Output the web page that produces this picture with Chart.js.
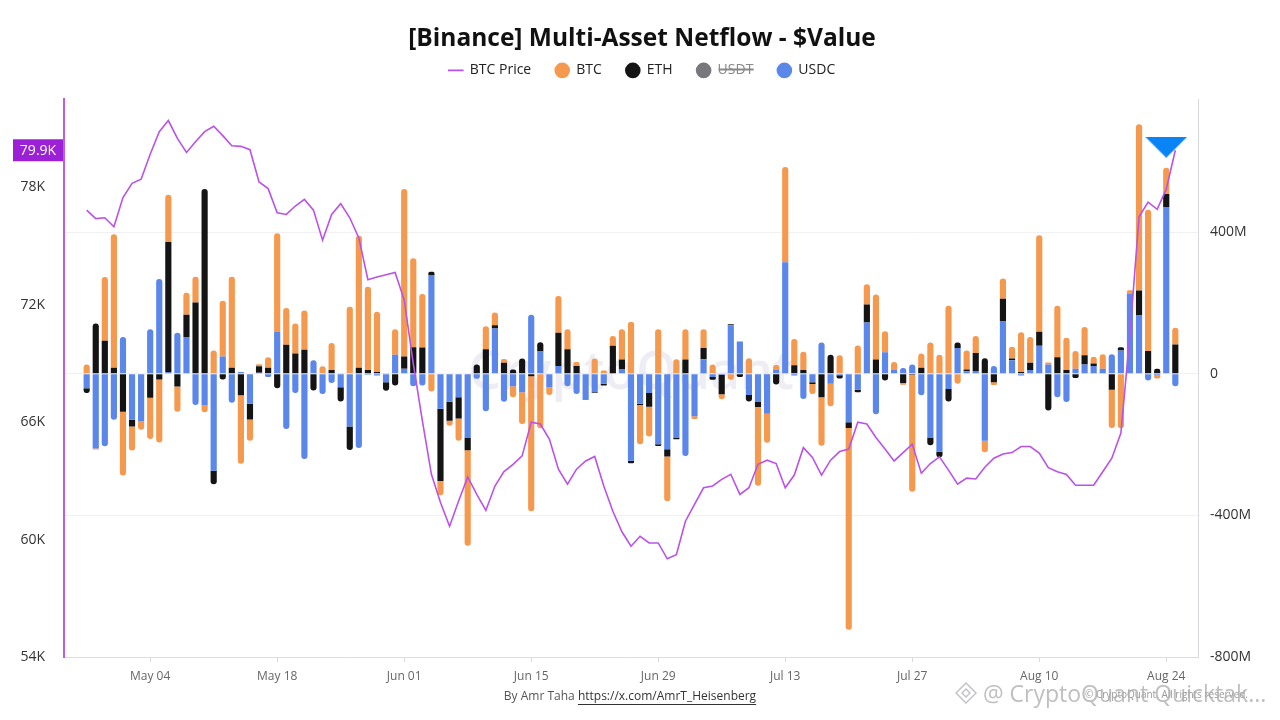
<!DOCTYPE html>
<html>
<head>
<meta charset="utf-8">
<title>[Binance] Multi-Asset Netflow - $Value</title>
<script src="https://cdn.jsdelivr.net/npm/chart.js@4.4.1/dist/chart.umd.min.js"></script>
<style>
  html, body { margin: 0; padding: 0; background: #fff; }
  #wrap { width: 1280px; height: 720px; }
</style>
</head>
<body>
<div id="wrap"><canvas id="myChart" width="1280" height="720"></canvas></div>
<script>
// BTC price, in thousands of USD (Apr 27 .. Aug 25)
const btcPrice = [
  76.84, 76.41, 76.45, 75.99,
  77.48, 78.21, 78.42, 79.70, 80.85, 81.42, 80.51, 79.79, 80.34, 80.85,
  81.13, 80.65, 80.13, 80.10, 79.93, 78.28, 77.94, 76.71, 76.62, 77.05,
  77.39, 76.84, 75.30, 76.62, 77.17, 76.45, 75.42, 73.28, 73.42, 73.54, 73.65,
  72.25, 69.00, 66.08, 63.34, 61.90, 60.68, 61.97, 63.20, 62.31, 61.49,
  62.74, 63.48, 63.85, 64.28, 66.00, 65.91, 65.14, 63.60, 62.83, 63.60,
  64.02, 64.25, 62.74, 61.45, 60.40, 59.66, 60.17, 59.83, 59.83, 59.02,
  59.23, 60.94, 61.80, 62.65, 62.74, 63.08, 63.34, 62.31, 62.65, 63.85,
  64.06, 63.89, 62.65, 63.30, 64.70, 64.20, 63.30, 64.06, 64.50, 64.63,
  66.00, 65.91, 65.22, 64.63, 64.02, 64.45, 64.88, 63.39, 63.89, 64.23, 63.55,
  62.83, 63.14, 63.10, 63.70, 64.16, 64.38, 64.45, 64.76, 64.76, 64.42,
  63.68, 63.47, 63.33, 62.78, 62.78, 62.78, 63.47, 64.16, 65.45, 70.50,
  76.50, 77.25, 76.88, 77.91, 79.90
];

// netflows, in millions of USD
const btcNetflow = [
  26, -3, 180, 377,
  -180, -68, -23, -116, -178, 134, -71, 62, 73, -21,
  66, 157, 257, -193, -60, 6, 30, 279, 104, 85,
  111, 0, 21, 76, 2, 189, 373, 235, 170, 2, 72,
  473, 251, 151, -50, -40, -14, -63, -270, 0, 65,
  36, 11, -31, -90, -381, -154, -22, 104, 57, 11,
  0, 43, 9, 28, 86, 147, -111, -84, 126, -126,
  41, 86, -8, 53, 26, -14, -17, 2, 44, -222,
  -82, 13, 269, 74, 51, -28, -137, -64, 52, -570,
  80, 57, 184, 59, 21, -5, -330, 40, 88, 54, 192,
  -28, 54, 48, -33, -8, 57, 33, 112, 73, 272,
  6, 145, 91, 50, 80, 19, 41, -108, -154, 9,
  470, 399, -8, 74, 47
];

const ethNetflow = [
  -13, 142, 93, 17,
  -107, -19, 0, -68, -16, 367, -36, 63, 201, 522,
  -38, -16, 17, -61, -44, 18, 17, -41, 82, 57,
  68, -47, 0, 11, -40, -66, 17, 11, 5, -24, -33,
  35, 75, 74, 9, -204, -54, -60, -36, 26, 69,
  9, 31, 12, 43, -7, 26, 0, 94, 69, 22,
  -2, -2, -5, 79, 28, -7, -3, -39, -5, -21,
  -5, 40, 0, 32, -8, -55, 3, -9, -18, -16,
  0, -30, 0, 24, 11, -5, -66, 54, -9, -16,
  -7, 51, 40, -19, 0, -26, -3, 17, -22, -16, -35,
  15, 5, 51, 44, -24, 64, 5, 5, 20, 40,
  -104, 47, 11, -12, 26, 7, 0, -45, 9, 0,
  69, 64, 14, 38, 83
];

const usdcNetflow = [
  -41, -211, -205, -130,
  104, -130, -135, 126, 268, 5, 116, 104, -88, -88,
  -274, 49, -82, 5, -85, 3, -9, 118, -156, -54,
  -241, 38, -57, -26, -38, -149, -210, -3, -5, -24, 54,
  14, -35, -33, 279, -99, -79, -66, -180, -14, -106,
  128, -79, -35, -52, 167, 63, -38, 22, -35, -57,
  -71, -52, -28, 0, 12, -246, -85, -54, -199, -213,
  -180, -232, -120, 41, -9, -3, 137, 90, -60, -78,
  -113, 12, 315, -5, -71, -24, 88, -28, -4, -137,
  -45, 145, -114, 61, 12, 16, 26, -61, -180, -220, -43,
  73, 7, 8, -189, 22, 148, 38, -5, 11, 79,
  26, -66, -80, 14, 26, 22, 14, 55, 66, 227,
  166, -19, -5, 470, -35
];

// USDT is switched off in the legend, so nothing of it is drawn
const usdtNetflow = [];

const tickLabels = ["May 04", "May 18", "Jun 01", "Jun 15", "Jun 29", "Jul 13", "Jul 27", "Aug 10", "Aug 24"];
const priceTicks = [54, 60, 66, 72, 78];
const flowTicks = [-800, -400, 0, 400];

// the blue flag above the last bars (right axis, millions)
const markerDay = "Aug 24";
const markerLevel = 640;

const months = ["Jan", "Feb", "Mar", "Apr", "May", "Jun", "Jul", "Aug", "Sep", "Oct", "Nov", "Dec"];

function dayLabel(d) {
  return months[d.getMonth()] + " " + String(d.getDate()).padStart(2, "0");
}

// two empty days on each side, like the original axis
const dates = [];
for (let i = -2; i <= btcPrice.length + 1; i++) {
  dates.push(dayLabel(new Date(2025, 3, 27 + i)));
}

function pad(arr) {
  return [null, null, ...arr, null, null];
}

// flat down-pointing triangle used as a point image
const flag = document.createElement("canvas");
flag.width = 42;
flag.height = 21;
const fctx = flag.getContext("2d");
fctx.fillStyle = "#0a84f5";
fctx.beginPath();
fctx.moveTo(0, 0);
fctx.lineTo(42, 0);
fctx.lineTo(21, 21);
fctx.closePath();
fctx.fill();

const FONT = "'Open Sans', 'Noto Sans', sans-serif";

// a bit more room between the legend and the plot
const legendSpace = {
  id: "legendSpace",
  beforeInit(chart) {
    const fit = chart.legend.fit;
    chart.legend.fit = function () {
      fit.call(this);
      this.height += 12;
    };
  }
};

const extras = {
  id: "extras",
  beforeDatasetsDraw(chart) {
    const { ctx, chartArea } = chart;
    ctx.save();
    ctx.font = "600 52px " + FONT;
    ctx.fillStyle = "rgba(214, 214, 228, 0.45)";
    ctx.textAlign = "center";
    ctx.textBaseline = "middle";
    ctx.fillText("CryptoQuant", (chartArea.left + chartArea.right) / 2, chart.scales.y1.getPixelForValue(0));
    ctx.restore();
  },
  afterDraw(chart) {
    const { ctx } = chart;
    const yScale = chart.scales.y;
    const last = btcPrice[btcPrice.length - 1];
    const py = yScale.getPixelForValue(last);

    ctx.save();
    // current price tag on the left axis
    ctx.fillStyle = "#9b20d6";
    ctx.fillRect(yScale.right - 51, py - 11, 50, 22);
    ctx.fillStyle = "#fff";
    ctx.font = "14px " + FONT;
    ctx.textAlign = "center";
    ctx.textBaseline = "middle";
    ctx.fillText(last.toFixed(1) + "K", yScale.right - 26, py + 1);

    // author line
    ctx.font = "12px " + FONT;
    ctx.textAlign = "left";
    const by = "By Amr Taha ";
    const url = "https://x.com/AmrT_Heisenberg";
    const w1 = ctx.measureText(by).width;
    const w2 = ctx.measureText(url).width;
    const x0 = 630 - (w1 + w2) / 2;
    ctx.fillStyle = "#555";
    ctx.fillText(by, x0, 697);
    ctx.fillStyle = "#333";
    ctx.fillText(url, x0 + w1, 697);
    ctx.fillRect(x0 + w1, 704, w2, 1);

    // copyright + overlay watermark
    ctx.font = "10px " + FONT;
    ctx.fillStyle = "#999";
    ctx.fillText("© CryptoQuant. All rights reserved.", 1085, 695);

    ctx.strokeStyle = "rgba(170, 170, 175, 0.7)";
    ctx.lineWidth = 1.5;
    ctx.beginPath();
    ctx.moveTo(966, 683); ctx.lineTo(976, 693); ctx.lineTo(966, 703); ctx.lineTo(956, 693); ctx.closePath();
    ctx.moveTo(966, 689); ctx.lineTo(970, 693); ctx.lineTo(966, 697); ctx.lineTo(962, 693); ctx.closePath();
    ctx.stroke();

    ctx.font = "23px " + FONT;
    ctx.fillStyle = "rgba(170, 170, 175, 0.75)";
    ctx.fillText("@ CryptoQuant Quicktak...", 983, 695);
    ctx.restore();
  }
};

const ctx = document.getElementById("myChart");

new Chart(ctx, {
  type: "bar",
  data: {
    labels: dates,
    datasets: [
      {
        type: "line",
        label: "BTC Price",
        data: pad(btcPrice),
        yAxisID: "y",
        borderColor: "#bb52e8",
        backgroundColor: "#bb52e8",
        borderWidth: 1.6,
        pointRadius: 0,
        pointStyle: "line",
        tension: 0,
        order: 0,
      },
      {
        label: "BTC",
        data: pad(btcNetflow),
        yAxisID: "y1",
        backgroundColor: "#f5994f",
        pointStyle: "circle",
        order: 3,
      },
      {
        label: "ETH",
        data: pad(ethNetflow),
        yAxisID: "y1",
        backgroundColor: "#141414",
        pointStyle: "circle",
        order: 2,
      },
      {
        label: "USDT",
        data: usdtNetflow,
        yAxisID: "y1",
        backgroundColor: "#77777c",
        pointStyle: "circle",
        hidden: true,
        order: 4,
      },
      {
        label: "USDC",
        data: pad(usdcNetflow),
        yAxisID: "y1",
        backgroundColor: "#5b87eb",
        pointStyle: "circle",
        order: 1,
      },
      {
        type: "line",
        label: "",
        data: [{ x: markerDay, y: markerLevel }],
        yAxisID: "y1",
        showLine: false,
        pointStyle: flag,
        order: -1,
      },
    ],
  },
  options: {
    responsive: false,
    devicePixelRatio: 1,
    animation: false,
    barPercentage: 0.68,
    categoryPercentage: 1,
    borderRadius: 3,
    layout: { padding: { left: 4, right: 0, top: 0, bottom: 28 } },
    plugins: {
      title: {
        display: true,
        text: "[Binance] Multi-Asset Netflow - $Value",
        color: "#111",
        font: { family: FONT, size: 24.5, weight: "bold" },
        padding: { top: 24, bottom: -14 },
      },
      legend: {
        labels: {
          usePointStyle: true,
          boxHeight: 11,
          padding: 24,
          color: "#222",
          font: { family: FONT, size: 14 },
          filter: (item) => item.text !== "",
          sort: (a, b) => a.datasetIndex - b.datasetIndex,
          generateLabels(chart) {
            const items = Chart.defaults.plugins.legend.labels.generateLabels(chart);
            items.forEach((it) => {
              if (it.hidden) it.fontColor = "#888";
            });
            return items;
          },
        },
      },
      tooltip: { enabled: false },
    },
    scales: {
      x: {
        stacked: true,
        grid: { offset: false, drawOnChartArea: false, drawTicks: true, tickLength: 5, color: "#d8d8e0" },
        border: { color: "#dcdce4" },
        ticks: {
          autoSkip: false,
          maxRotation: 0,
          padding: 7,
          color: "#666",
          font: { family: FONT, size: 12 },
        },
        afterBuildTicks: (scale) => {
          scale.ticks = scale.ticks.filter((t) => tickLabels.includes(dates[t.value]));
        },
        afterFit: (scale) => { scale.height = 35; },
      },
      y: {
        position: "left",
        min: 54,
        max: 82.5,
        grid: { display: false },
        border: { display: true, color: "#c05ae8", width: 2 },
        ticks: {
          padding: 11,
          color: "#333",
          font: { family: FONT, size: 14 },
          callback: (v) => v + "K",
        },
        afterBuildTicks: (scale) => {
          scale.ticks = priceTicks.map((v) => ({ value: v }));
        },
        afterFit: (scale) => { scale.width = 60; },
      },
      y1: {
        position: "right",
        stacked: true,
        min: -800,
        max: 775,
        grid: { color: "#f1f1f3", drawTicks: false },
        border: { color: "#d8d8e0" },
        ticks: {
          padding: 12,
          color: "#333",
          font: { family: FONT, size: 14 },
          callback: (v) => (v === 0 ? "0" : v + "M"),
        },
        afterBuildTicks: (scale) => {
          scale.ticks = flowTicks.map((v) => ({ value: v }));
        },
        afterFit: (scale) => { scale.width = 82; },
      },
    },
  },
  plugins: [legendSpace, extras],
});
</script>
</body>
</html>
